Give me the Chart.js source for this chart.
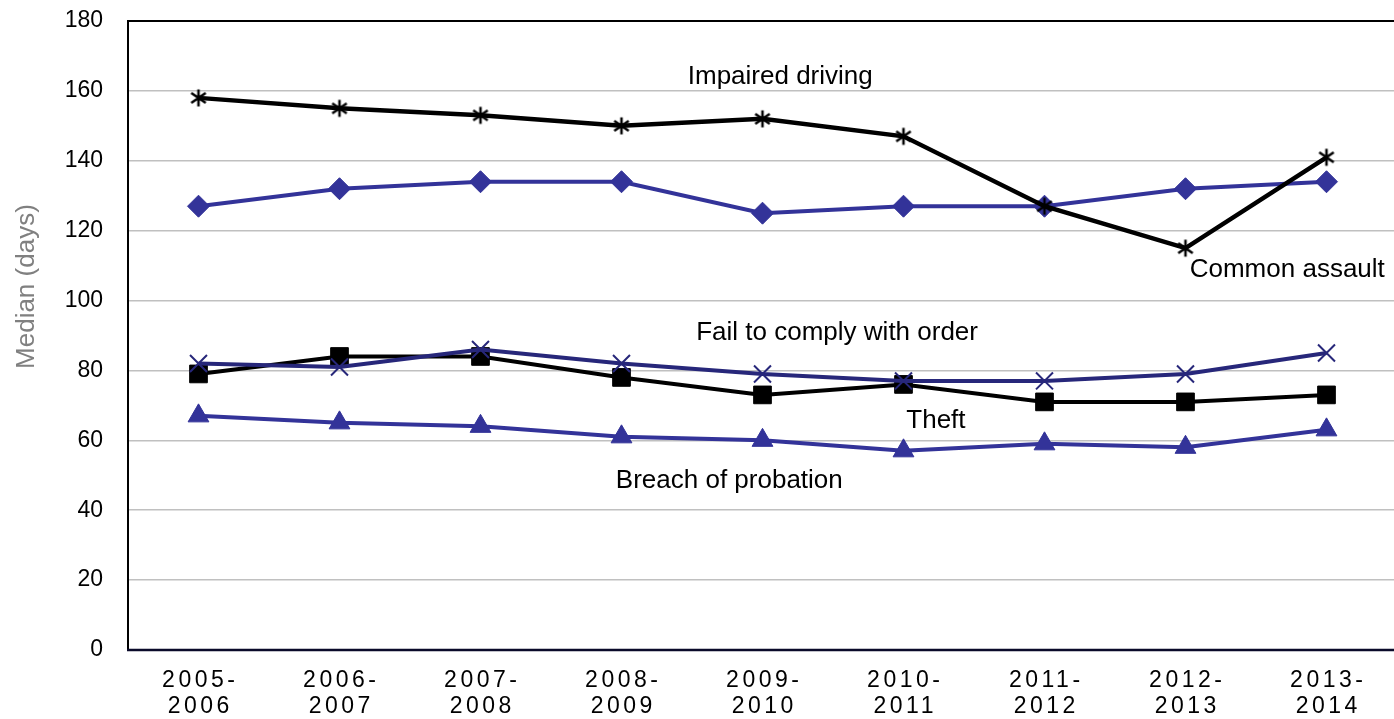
<!DOCTYPE html>
<html>
<head>
<meta charset="utf-8">
<script src="https://cdn.jsdelivr.net/npm/chart.js@4/dist/chart.umd.min.js"></script>
<style>
  html, body { margin: 0; padding: 0; overflow: hidden; background: #fff; }
</style>
</head>
<body>
<canvas id="chart" width="1400" height="719"></canvas>
<script>
// fiscal years, drawn on two lines under the axis
const years = ['2005-2006', '2006-2007', '2007-2008', '2008-2009', '2009-2010',
               '2010-2011', '2011-2012', '2012-2013', '2013-2014'];

// median elapsed time (days)
const impairedDriving = [158, 155, 153, 150, 152, 147, 127, 115, 141];
const commonAssault   = [127, 132, 134, 134, 125, 127, 127, 132, 134];
const failToComply    = [82, 81, 86, 82, 79, 77, 77, 79, 85];
const theft           = [79, 84, 84, 78, 73, 76, 71, 71, 73];
const breachProbation = [67, 65, 64, 61, 60, 57, 59, 58, 63];

const yTicks = { min: 0, max: 180, step: 20 };

// series names written inside the plot, with anchor (category index, value)
const noteText = ['Impaired driving', 'Common assault', 'Fail to comply with order', 'Theft', 'Breach of probation'];
const noteAt   = [[3.47, 162], [7.03, 106.6], [3.53, 88.6], [5.02, 63.4], [2.96, 46.3]];

const FONT = '"Liberation Sans", Arial, sans-serif';
const BLUE = '#333399';
const NAVY = '#27277a';

// asterisk marker (vertical bar + X)
function asterisk(size, color) {
  const c = document.createElement('canvas');
  c.width = size; c.height = size;
  const g = c.getContext('2d');
  const m = size / 2, r = size / 2 - 1.5;
  g.strokeStyle = color;
  g.lineWidth = 2.5;
  g.beginPath();
  g.moveTo(m, m - r); g.lineTo(m, m + r);
  g.moveTo(m - r * 0.85, m - r * 0.6); g.lineTo(m + r * 0.85, m + r * 0.6);
  g.moveTo(m - r * 0.85, m + r * 0.6); g.lineTo(m + r * 0.85, m - r * 0.6);
  g.stroke();
  return c;
}

const decorate = {
  id: 'decorate',
  beforeDatasetsDraw(chart) {
    const { ctx, chartArea: a } = chart;
    ctx.save();
    ctx.strokeStyle = '#000';
    ctx.lineWidth = 2;
    ctx.strokeRect(a.left, a.top, a.right - a.left, a.bottom - a.top);
    ctx.strokeStyle = '#0a0a2a';
    ctx.lineWidth = 2.5;
    ctx.beginPath();
    ctx.moveTo(a.left - 1, a.bottom);
    ctx.lineTo(a.right, a.bottom);
    ctx.stroke();
    ctx.restore();
  },
  afterDraw(chart) {
    const { ctx, chartArea: a, scales: { x, y } } = chart;
    ctx.save();
    // x labels, spaced out
    ctx.fillStyle = '#000';
    ctx.font = '23px ' + FONT;
    ctx.textAlign = 'center';
    ctx.textBaseline = 'alphabetic';
    ctx.letterSpacing = '3.5px';
    years.forEach((lab, i) => {
      const px = x.getPixelForTick(i) + 1.75;
      const parts = lab.split('-');
      ctx.fillText(parts[0] + '-', px, a.bottom + 37);
      ctx.fillText(parts[1], px, a.bottom + 63);
    });
    ctx.letterSpacing = '0px';

    // axis title
    ctx.fillStyle = '#808080';
    ctx.font = '26px ' + FONT;
    ctx.translate(27, y.getPixelForValue(104));
    ctx.rotate(-Math.PI / 2);
    ctx.textAlign = 'center';
    ctx.textBaseline = 'middle';
    ctx.fillText('Median (days)', 0, 0);
    ctx.restore();

    // series names
    ctx.save();
    ctx.fillStyle = '#000';
    ctx.font = '26px ' + FONT;
    ctx.textAlign = 'left';
    ctx.textBaseline = 'alphabetic';
    const x0 = x.getPixelForValue(0), step = x.getPixelForValue(1) - x0;
    noteText.forEach((t, i) => {
      ctx.fillText(t, x0 + noteAt[i][0] * step, y.getPixelForValue(noteAt[i][1]));
    });
    ctx.restore();
  }
};

new Chart(document.getElementById('chart'), {
  type: 'line',
  data: {
    labels: years,
    datasets: [
      {
        label: 'Fail to comply with order', data: failToComply,
        borderColor: NAVY, borderWidth: 4,
        pointStyle: 'crossRot', pointRadius: 12, pointBorderWidth: 2,
        pointBorderColor: NAVY, pointBackgroundColor: NAVY
      },
      {
        label: 'Theft', data: theft,
        borderColor: '#000', borderWidth: 4,
        pointStyle: 'rect', pointRadius: 12.5, pointBorderWidth: 1,
        pointBorderColor: '#000', pointBackgroundColor: '#000'
      },
      {
        label: 'Impaired driving', data: impairedDriving,
        borderColor: '#000', borderWidth: 4.5,
        pointStyle: asterisk(20, '#000'), pointRadius: 10
      },
      {
        label: 'Common assault', data: commonAssault,
        borderColor: BLUE, borderWidth: 4,
        pointStyle: 'rectRot', pointRadius: 11, pointBorderWidth: 1,
        pointBorderColor: BLUE, pointBackgroundColor: BLUE
      },
      {
        label: 'Breach of probation', data: breachProbation,
        borderColor: BLUE, borderWidth: 4,
        pointStyle: 'triangle', pointRadius: 12, pointBorderWidth: 1,
        pointBorderColor: BLUE, pointBackgroundColor: BLUE
      }
    ]
  },
  options: {
    responsive: false,
    animation: false,
    devicePixelRatio: 1,
    layout: { autoPadding: false, padding: { top: 21, right: 3, left: 0, bottom: 0 } },
    plugins: { legend: { display: false }, tooltip: { enabled: false } },
    elements: { line: { tension: 0 } },
    scales: {
      x: {
        type: 'category',
        offset: true,
        grid: { display: false },
        border: { display: false },
        ticks: { display: false },
        afterFit: s => { s.height = 69; }
      },
      y: {
        min: yTicks.min, max: yTicks.max,
        grid: { color: '#c0c0c0', lineWidth: 1.5, drawTicks: false },
        border: { display: false },
        ticks: {
          stepSize: yTicks.step, padding: 25, color: '#000',
          font: { family: FONT, size: 23 }
        },
        afterFit: s => { s.width = 128; s.paddingTop = 0; s.paddingBottom = 0; }
      }
    }
  },
  plugins: [decorate]
});
</script>
</body>
</html>
